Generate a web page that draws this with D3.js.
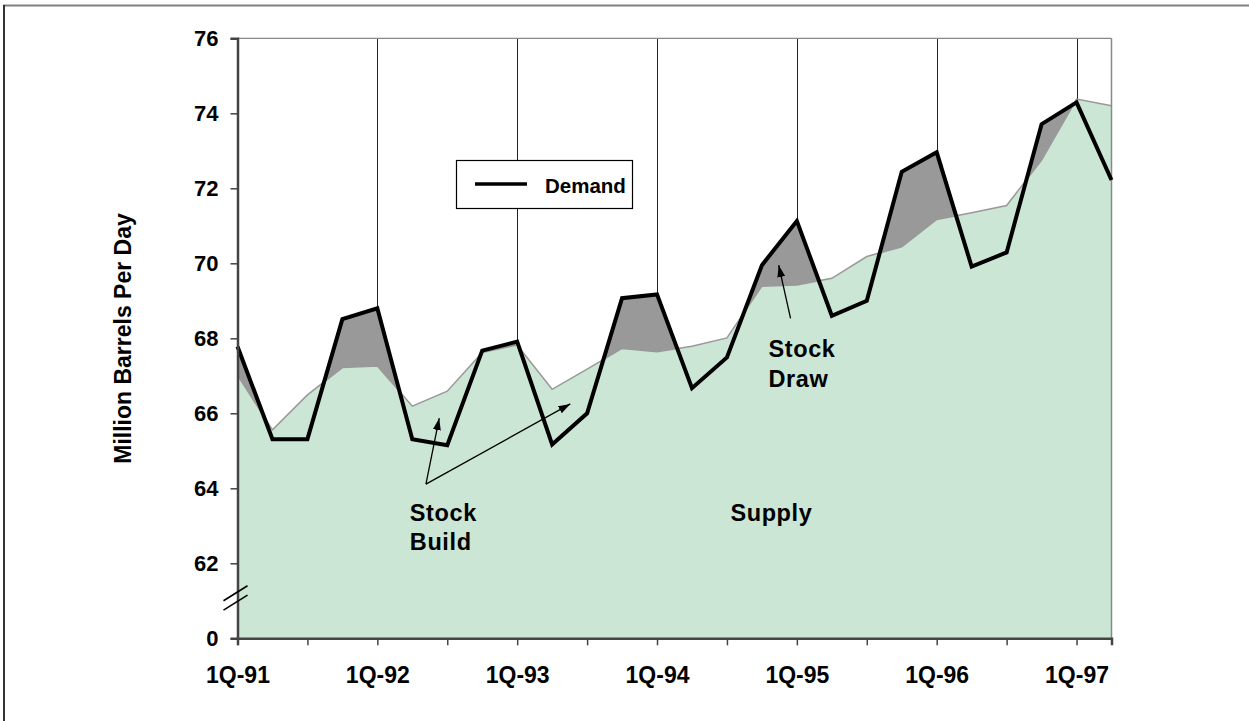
<!DOCTYPE html>
<html>
<head>
<meta charset="utf-8">
<script src="https://cdn.jsdelivr.net/npm/d3@7/dist/d3.min.js"></script>
<style>
  html, body { margin: 0; padding: 0; background: #fff; }
  svg { display: block; }
  text { font-family: "Liberation Sans", Arial, sans-serif; font-weight: bold; fill: #000; }
</style>
</head>
<body>
<script>
// ---- data ----
const quarters = [
  "1Q-91","2Q-91","3Q-91","4Q-91","1Q-92","2Q-92","3Q-92","4Q-92",
  "1Q-93","2Q-93","3Q-93","4Q-93","1Q-94","2Q-94","3Q-94","4Q-94",
  "1Q-95","2Q-95","3Q-95","4Q-95","1Q-96","2Q-96","3Q-96","4Q-96",
  "1Q-97","2Q-97"
];
const demand = [67.78, 65.31, 65.31, 68.51, 68.80, 65.31, 65.15, 67.67,
                67.91, 65.17, 66.00, 69.07, 69.17, 66.67, 67.49, 69.95,
                71.13, 68.60, 69.00, 72.44, 72.96, 69.91, 70.29, 73.71,
                74.29, 72.22];
const supply = [67.02, 65.56, 66.49, 67.22, 67.26, 66.19, 66.59, 67.62,
                67.82, 66.64, 67.18, 67.73, 67.64, 67.79, 68.01, 69.39,
                69.42, 69.60, 70.18, 70.44, 71.17, 71.35, 71.54, 72.75,
                74.38, 74.20];
const yTicks = [60, 62, 64, 66, 68, 70, 72, 74, 76];
const yTickLabels = ["0", "62", "64", "66", "68", "70", "72", "74", "76"];
const yTitle = "Million Barrels Per Day";
const legendLabel = "Demand";

const W = 1249, H = 721;
const svg = d3.select("body").append("svg").attr("width", W).attr("height", H);

const x = d3.scaleLinear().domain([0, quarters.length - 1]).range([237.5, 1111.5]);
const y = d3.scaleLinear().domain([60, 76]).range([638.3, 38.3]);

// outer frame (top and left)
svg.append("line").attr("x1", 3).attr("x2", W).attr("y1", 5.5).attr("y2", 5.5)
  .attr("stroke", "#808080").attr("stroke-width", 2);
svg.append("line").attr("x1", 4).attr("x2", 4).attr("y1", 5).attr("y2", H)
  .attr("stroke", "#333").attr("stroke-width", 2);

const idx = d3.range(quarters.length);

// vertical year gridlines (behind areas)
svg.append("g").selectAll("line")
  .data(idx.filter(i => i > 0 && quarters[i].startsWith("1Q")))
  .join("line")
  .attr("x1", i => Math.round(x(i)) + 0.5).attr("x2", i => Math.round(x(i)) + 0.5)
  .attr("y1", y(76)).attr("y2", y(60))
  .attr("stroke", "#222").attr("stroke-width", 1);

// stock draw (grey) area = demand area, covered by supply area
const areaD = d3.area().x(i => x(i)).y0(y(60)).y1(i => y(demand[i]));
const areaS = d3.area().x(i => x(i)).y0(y(60)).y1(i => y(supply[i]));
svg.append("path").datum(idx).attr("d", areaD).attr("fill", "#999999");
svg.append("path").datum(idx).attr("d", areaS).attr("fill", "#cbe6d5");

// supply line
svg.append("path").datum(idx)
  .attr("d", d3.line().x(i => x(i)).y(i => y(supply[i])))
  .attr("fill", "none").attr("stroke", "#999").attr("stroke-width", 1.5);

// plot frame top/right
svg.append("line").attr("x1", x(0)).attr("x2", x(25)).attr("y1", y(76)).attr("y2", y(76))
  .attr("stroke", "#888").attr("stroke-width", 1.2);
svg.append("line").attr("x1", x(25)).attr("x2", x(25)).attr("y1", y(76)).attr("y2", y(60))
  .attr("stroke", "#888").attr("stroke-width", 1.5);

// demand line
svg.append("path").datum(idx)
  .attr("d", d3.line().x(i => x(i)).y(i => y(demand[i])))
  .attr("fill", "none").attr("stroke", "#000").attr("stroke-width", 4)
  .attr("stroke-linejoin", "miter");

// y axis
const yAxis = d3.axisLeft(y).tickValues(yTicks).tickSize(7).tickPadding(12)
  .tickFormat((d, i) => yTickLabels[i]);
const gy = svg.append("g").attr("transform", `translate(${x(0)},0)`).call(yAxis);
gy.select(".domain").attr("stroke", "#444").attr("stroke-width", 2.5);
gy.selectAll(".tick line").attr("stroke", "#444").attr("stroke-width", 1.5);
gy.selectAll(".tick text").attr("font-size", 22).attr("font-weight", "bold")
  .attr("font-family", "Liberation Sans, Arial, sans-serif").attr("fill", "#000");

// x axis
const xAxis = d3.axisBottom(x).tickValues(idx.filter(i => i % 2 === 0)).tickSize(7)
  .tickPadding(0).tickFormat(i => quarters[i].startsWith("1Q") ? quarters[i] : "");
const gx = svg.append("g").attr("transform", `translate(0,${y(60)})`).call(xAxis);
gx.select(".domain").attr("stroke", "#444").attr("stroke-width", 2.5);
gx.selectAll(".tick line").attr("stroke", "#444").attr("stroke-width", 1.5);
gx.selectAll(".tick text").attr("font-size", 23).attr("font-weight", "bold")
  .attr("font-family", "Liberation Sans, Arial, sans-serif").attr("fill", "#000")
  .attr("dy", null).attr("y", 44.5);

// axis break marks
const brk = svg.append("g").attr("stroke", "#000").attr("stroke-width", 1.6);
[y(61.2), y(60.95)].forEach(cy => {
  brk.append("line").attr("x1", x(0) - 14).attr("y1", cy + 7.5)
    .attr("x2", x(0) + 10).attr("y2", cy - 7.5);
});

// y title
svg.append("text")
  .attr("transform", "translate(131,338.5) rotate(-90)")
  .attr("text-anchor", "middle").attr("font-size", 23).text(yTitle);

// legend
const lg = svg.append("g");
lg.append("rect").attr("x", 456.5).attr("y", 160.5).attr("width", 176).attr("height", 48)
  .attr("fill", "#fff").attr("stroke", "#000").attr("stroke-width", 1.2);
lg.append("line").attr("x1", 475).attr("x2", 527).attr("y1", 184).attr("y2", 184)
  .attr("stroke", "#000").attr("stroke-width", 3.5);
lg.append("text").attr("x", 545).attr("y", 192.5).attr("font-size", 20.5).text(legendLabel);

// annotations
const defs = svg.append("defs");
defs.append("marker").attr("id", "arr").attr("viewBox", "0 0 12 8")
  .attr("refX", 12).attr("refY", 4).attr("markerWidth", 12).attr("markerHeight", 8)
  .attr("markerUnits", "userSpaceOnUse").attr("orient", "auto")
  .append("path").attr("d", "M0,0 L12,4 L0,8 z").attr("fill", "#000");

const arrows = [
  {from: [5.39, 64.11], to: [5.77, 65.87]},
  {from: [5.39, 64.11], to: [9.52, 66.25]},
  {from: [15.82, 68.53], to: [15.48, 69.95]}
];
svg.append("g").selectAll("line").data(arrows).join("line")
  .attr("x1", d => x(d.from[0])).attr("y1", d => y(d.from[1]))
  .attr("x2", d => x(d.to[0])).attr("y2", d => y(d.to[1]))
  .attr("stroke", "#000").attr("stroke-width", 1.3).attr("marker-end", "url(#arr)");

const notes = [
  {t: "Stock", q: 4.93, v: 63.13},
  {t: "Build", q: 4.93, v: 62.36},
  {t: "Stock", q: 15.19, v: 67.51},
  {t: "Draw", q: 15.19, v: 66.71},
  {t: "Supply", q: 14.1, v: 63.14}
];
svg.append("g").selectAll("text").data(notes).join("text")
  .attr("x", d => x(d.q)).attr("y", d => y(d.v))
  .attr("font-size", 23.5).attr("letter-spacing", 0.6).text(d => d.t);
</script>
</body>
</html>
